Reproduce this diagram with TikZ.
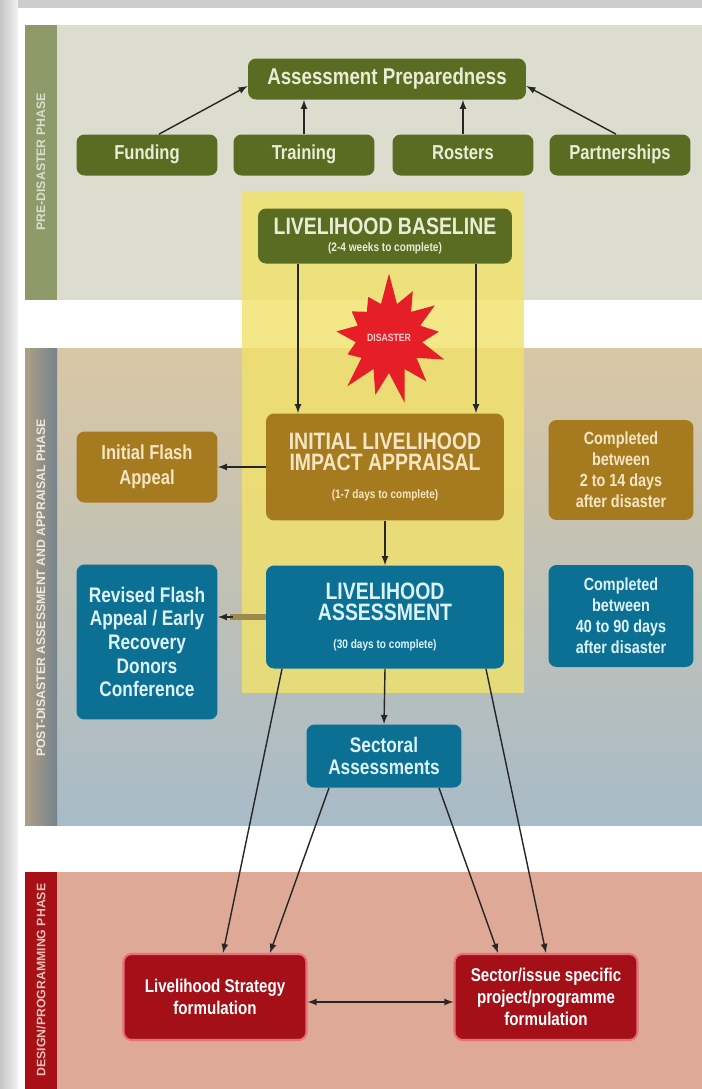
\documentclass[tikz,border=0pt]{standalone}
\usepackage{fontspec}
\setmainfont{Liberation Sans}[FakeStretch=0.82]
\newfontfamily\phasefont{Liberation Sans}
\usetikzlibrary{shapes.symbols}

\definecolor{prebg}{HTML}{DCDDCF}
\definecolor{presid}{HTML}{8E9A6A}
\definecolor{posttop}{HTML}{D9C7A5}
\definecolor{postbot}{HTML}{A8BBC8}
\definecolor{progbg}{HTML}{DFA998}
\definecolor{progsid}{HTML}{A80F16}
\definecolor{hilite}{HTML}{F2E26A}
\definecolor{olivebox}{HTML}{5A6B22}
\definecolor{olivetext}{HTML}{E9EDD5}
\definecolor{ochrebox}{HTML}{A67A1F}
\definecolor{ochretext}{HTML}{F4E6C4}
\definecolor{bluebox}{HTML}{0C6F94}
\definecolor{bluetext}{HTML}{DDF3FA}
\definecolor{redbox}{HTML}{A50F18}
\definecolor{redglow}{HTML}{E8707A}
\definecolor{disred}{HTML}{E61E28}
\definecolor{barline}{HTML}{9C8A4A}

\begin{document}
\begin{tikzpicture}[x=0.02cm, y=-0.02cm, >=latex,
  box/.style={rounded corners=0.16cm, align=center, inner sep=2pt},
  prebox/.style={box, fill=olivebox, text=olivetext},
  appbox/.style={box, fill=ochrebox, text=ochretext},
  assbox/.style={box, fill=bluebox, text=bluetext},
  progbox/.style={box, fill=redbox, text=white, draw=redglow, line width=1.2pt},
  link/.style={->, thick, draw=black!85},
  phase/.style={rotate=90, font=\phasefont\bfseries\fontsize{7}{8}\selectfont}]
\useasboundingbox (0,0) rectangle (702,1089);

% page, shadow and phase bands
\fill[gray!40] (0,0) rectangle (702,1089);
\shade[left color=gray!45, right color=gray!10] (0,0) rectangle (18,1089);
\fill[white] (18,8) rectangle (702,1089);
\fill[prebg] (25,25) rectangle (702,300);
\fill[presid] (25,25) rectangle (57,300);
\shade[top color=posttop, bottom color=postbot] (25,348) rectangle (702,825);
\shade[left color=posttop!80!black, right color=postbot!70!black] (25,348) rectangle (57,825);
\fill[progbg] (25,872) rectangle (702,1089);
\fill[progsid] (25,872) rectangle (57,1089);
\fill[hilite, opacity=0.8] (242,191) rectangle (524,693);

\node[phase, text=prebg] (ph1) at (41,162) {PRE-DISASTER PHASE};
\node[phase, text=posttop!40] (ph2) at (41,588) {POST-DISASTER ASSESSMENT AND APPRAISAL PHASE};
\node[phase, text=progbg!70!white] (ph3) at (41,980) {DESIGN/PROGRAMMING PHASE};

% pre-disaster
\node[prebox, minimum width=5.56cm, minimum height=0.82cm, font=\bfseries\fontsize{13}{15}\selectfont] (prep) at (387,79) {Assessment Preparedness};
\foreach \x/\nm/\txt in {147/fund/Funding, 304/train/Training, 463/rost/Rosters, 620/partn/Partnerships}
  \node[prebox, minimum width=2.82cm, minimum height=0.82cm, text height=0.75em, text depth=0.22em,
    font=\bfseries\fontsize{11.5}{13}\selectfont] (\nm) at (\x,155) {\txt};
\draw[link] ([xshift=0.24cm]fund.north) -- ([yshift=-0.14cm]prep.west);
\draw[link] (train.north) -- (train.north |- prep.south);
\draw[link] (rost.north) -- (rost.north |- prep.south);
\draw[link] ([xshift=-0.08cm]partn.north) -- ([yshift=-0.14cm]prep.east);

\node[prebox, minimum width=5.08cm, minimum height=1.1cm, font=\bfseries] (base) at (385,236)
  {\fontsize{13.5}{15}\selectfont LIVELIHOOD BASELINE\\[-2pt]\fontsize{7}{8}\selectfont (2-4 weeks to complete)};

\node[starburst, starburst points=13, starburst point height=0.65cm, random starburst=7,
  fill=disred, text=pink!70, minimum width=2.35cm, minimum height=2.7cm, inner sep=1pt,
  font=\bfseries\fontsize{6}{7}\selectfont] (dis) at (389,338) {DISASTER};

% post-disaster
\node[appbox, minimum width=4.76cm, minimum height=2.14cm, font=\bfseries] (init) at (385,467)
  {\fontsize{13.5}{17}\selectfont INITIAL LIVELIHOOD\\\fontsize{13.5}{17}\selectfont IMPACT APPRAISAL\\[4pt]\fontsize{7}{8}\selectfont (1-7 days to complete)};
\draw[link] ([xshift=-1.74cm]base.south) -- ([xshift=-1.74cm]init.north);
\draw[link] ([xshift=1.82cm]base.south) -- ([xshift=1.82cm]init.north);

\node[appbox, minimum width=2.82cm, minimum height=1.42cm, font=\bfseries\fontsize{11.5}{14}\selectfont] (ifa) at (147,467) {Initial Flash\\Appeal};
\node[appbox, minimum width=2.9cm, minimum height=2cm, font=\bfseries\fontsize{10}{12}\selectfont] (done1) at (621,470) {Completed\\between\\2 to 14 days\\after disaster};
\draw[link] (init.west) -- (ifa.east);

\node[assbox, minimum width=4.76cm, minimum height=2.06cm, font=\bfseries] (la) at (385,617)
  {\fontsize{13.5}{17}\selectfont LIVELIHOOD\\\fontsize{13.5}{17}\selectfont ASSESSMENT\\[4pt]\fontsize{7}{8}\selectfont (30 days to complete)};
\draw[link] (init.south) -- (la.north);

\node[assbox, minimum width=2.82cm, minimum height=3.1cm, font=\bfseries\fontsize{12}{13.5}\selectfont] (rev) at (147,642) {Revised Flash\\Appeal / Early\\Recovery\\Donors\\Conference};
\node[assbox, minimum width=2.9cm, minimum height=2.04cm, font=\bfseries\fontsize{10}{12}\selectfont] (done2) at (621,616) {Completed\\between\\40 to 90 days\\after disaster};
\draw[line width=3pt, barline] (la.west) -- ([xshift=0.25cm]la.west -| rev.east);
\draw[link] ([xshift=0.3cm]la.west -| rev.east) -- (la.west -| rev.east);

\node[assbox, minimum width=3.1cm, minimum height=1.26cm, font=\bfseries\fontsize{12}{13}\selectfont] (sect) at (384,756) {Sectoral\\Assessments};
\draw[link] (la.south) -- (sect.north);

% programming
\node[progbox, minimum width=3.66cm, minimum height=1.72cm, font=\bfseries\fontsize{10.5}{12.5}\selectfont] (lsf) at (215,997) {Livelihood Strategy\\formulation};
\node[progbox, minimum width=3.66cm, minimum height=1.72cm, font=\bfseries\fontsize{10.5}{12.5}\selectfont] (sis) at (546,997) {Sector/issue specific\\project/programme\\formulation};
\draw[link] ([xshift=-2.06cm]la.south) -- ([xshift=0.16cm]lsf.north);
\draw[link] ([xshift=-1.1cm]sect.south) -- ([xshift=1.1cm]lsf.north);
\draw[link] ([xshift=1.1cm]sect.south) -- ([xshift=-0.96cm]sis.north);
\draw[link] ([xshift=2.02cm]la.south) -- (sis.north);
\draw[<->, thick, draw=black!85] ([yshift=-0.1cm]lsf.east) -- ([yshift=-0.1cm]sis.west);
\end{tikzpicture}
\end{document}
